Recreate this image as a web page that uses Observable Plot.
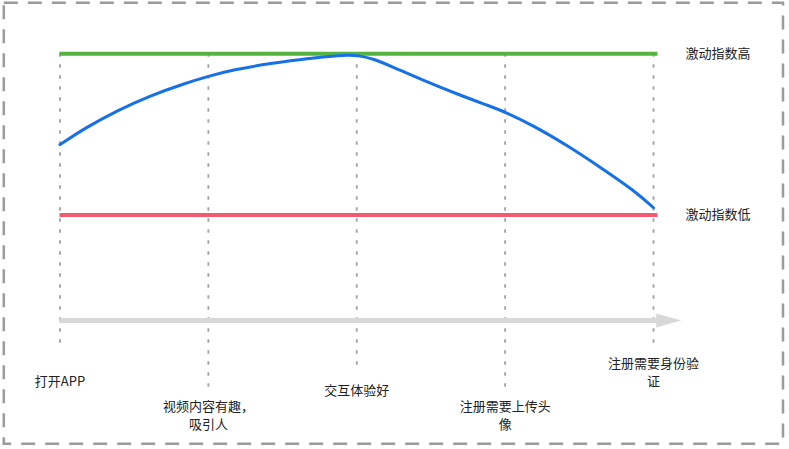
<!DOCTYPE html>
<html>
<head>
<meta charset="utf-8">
<script src="https://cdn.jsdelivr.net/npm/d3@7"></script>
<script src="https://cdn.jsdelivr.net/npm/@observablehq/plot@0.6"></script>
<style>
  html, body { margin: 0; padding: 0; background: #fff; }
  #chart svg { display: block; }
</style>
</head>
<body>
<div id="chart"></div>
<script>
// Journey stages (x = stage index)
const stageLabels = ["打开APP", "视频内容有趣，\n吸引人", "交互体验好", "注册需要上传头\n像", "注册需要身份验\n证"];
const stageIndex = [0, 1, 2, 3, 4];

// Excitement curve (x in stage units, value 0 = low, 100 = high)
const curveX = [0, 0.16, 0.385, 0.61, 0.834, 1.0, 1.17, 1.40, 1.62, 1.80, 1.94, 2.02, 2.11, 2.23, 2.45, 2.68, 2.90, 3.0, 3.19, 3.42, 3.64, 3.87, 4.0];
const curveV = [43.7, 53.5, 64.8, 74.1, 81.4, 86.1, 90.1, 93.8, 96.4, 98.3, 99.3, 98.8, 96.9, 92.4, 83.4, 74.9, 67.4, 63.9, 55.5, 43.1, 29.7, 15.2, 4.5];

// Reference levels
const levelValues = [100, 0];
const levelNames = ["激动指数高", "激动指数低"];
const levelColors = ["#55b43f", "#f45a6f"];

// Layout helpers (value units of the y scale)
const lineEnd = 4.03;
const axisLevel = -65.4;
const ruleBottoms = [-84.1, -108.3, -94.6, -108.9, -81.0];
const labelLevels = [-102.7, -123.8, -108.3, -123.8, -97.1];

const curve = curveX.map((x, i) => ({x, v: curveV[i]}));

// right-pointing filled triangle for the arrow head
const triangleRight = {
  draw(context) {
    context.moveTo(-1, -7);
    context.lineTo(24, 0);
    context.lineTo(-1, 7);
    context.closePath();
  }
};

const font = "'Noto Sans CJK SC', 'Noto Sans', sans-serif";

const chart = Plot.plot({
  width: 789,
  height: 449,
  margin: 0,
  style: {background: "#fff", fontFamily: font, overflow: "visible"},
  x: {domain: [0, 4], range: [59.5, 653], axis: null},
  y: {domain: [0, 100], range: [214.5, 53.3], axis: null},
  color: {type: "identity"},
  marks: [
    Plot.frame({stroke: "#9a9a9a", strokeWidth: 2.5, strokeDasharray: "14,10",
      insetLeft: 3.3, insetTop: 2.3, insetRight: 6.5, insetBottom: 5.7}),
    // vertical dotted stage guides
    Plot.ruleX(stageIndex, {x: d => d, y1: 100, y2: d => ruleBottoms[d],
      stroke: "#a0a0a0", strokeWidth: 1.8, strokeDasharray: "3.5,7.5"}),
    // gray time axis with arrow
    Plot.ruleY([axisLevel], {y: d => d, x1: 0, x2: lineEnd, stroke: "#d8d8d8", strokeWidth: 5}),
    Plot.dot([axisLevel], {x: lineEnd - 0.005, y: d => d, symbol: triangleRight, fill: "#d8d8d8", stroke: "none"}),
    // high / low reference lines
    Plot.ruleY(levelValues, {y: d => d, x1: 0, x2: lineEnd, stroke: (d, i) => levelColors[i], strokeWidth: 4}),
    Plot.text(levelValues, {x: 4, y: d => d, text: (d, i) => levelNames[i], dx: 32,
      textAnchor: "start", fontSize: 13, fill: "#222"}),
    // excitement curve
    Plot.line(curve, {x: "x", y: "v", stroke: "#1670e8", strokeWidth: 3, curve: "basis"}),
    // stage labels
    Plot.text(stageIndex, {x: d => d, y: d => labelLevels[d], text: d => stageLabels[d],
      lineAnchor: "middle", lineHeight: 18 / 13, fontSize: 13, fill: "#222"})
  ]
});

document.getElementById("chart").appendChild(chart);
</script>
</body>
</html>
